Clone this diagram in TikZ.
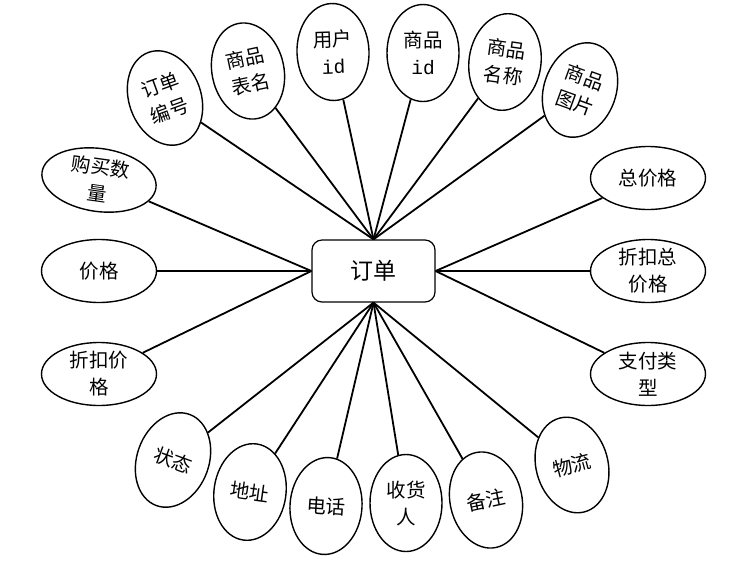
\documentclass[tikz,border=0pt]{standalone}
\usepackage{fontspec}
\setmainfont{Noto Sans CJK SC}
\newfontfamily\idfont{Liberation Mono}
\usetikzlibrary{shapes.geometric}
\begin{document}
\begin{tikzpicture}[x=1pt,y=-1pt,
  attr/.style={draw, ellipse, line width=1.4pt, inner sep=0pt, fill=white},
  vattr/.style={attr, minimum width=72pt, minimum height=97pt},
  hattr/.style={attr, minimum width=115pt, minimum height=63pt},
  lbl/.style={font=\fontsize{19.5}{27}\selectfont, align=center, inner sep=0pt},
  link/.style={line width=1.8pt}]
\useasboundingbox (0,0) rectangle (746,566);
\node[draw, rounded corners=10pt, minimum width=123pt, minimum height=62pt, line width=1.2pt,
      font=\fontsize{23}{28}\selectfont] (order) at (373.5,271) {订单};
% top
\node[vattr, rotate=20] (a1) at (165,98) {};
\node[lbl, rotate=20] (t1) at (a1) {订单\\编号};
\node[vattr, rotate=12] (a2) at (248,71) {};
\node[lbl, rotate=12] (t2) at (a2) {商品\\表名};
\node[vattr, rotate=2] (a3) at (333,52) {};
\node[lbl, rotate=2] (t3) at (a3) {用户\\{\idfont id}};
\node[vattr] (a4) at (423,53) {};
\node[lbl] (t4) at (a4) {商品\\{\idfont id}};
\node[vattr, rotate=-8] (a5) at (505,62) {};
\node[lbl, rotate=-8] (t5) at (a5) {商品\\名称};
\node[vattr, rotate=-20] (a6) at (580,90) {};
\node[lbl, rotate=-20] (t6) at (a6) {商品\\图片};
% left
\node[hattr, rotate=-8] (b1) at (99,180) {};
\node[lbl, rotate=-8] (u1) at (b1) {购买数\\量};
\node[hattr] (b2) at (99,271) {};
\node[lbl] (u2) at (b2) {价格};
\node[hattr] (b3) at (99,374) {};
\node[lbl] (u3) at (b3) {折扣价\\格};
% right
\node[hattr] (c1) at (648,178) {};
\node[lbl] (v1) at (c1) {总价格};
\node[hattr] (c2) at (648,271) {};
\node[lbl] (v2) at (c2) {折扣总\\价格};
\node[hattr] (c3) at (648,374) {};
\node[lbl] (v3) at (c3) {支付类\\型};
% bottom
\node[vattr, rotate=-20] (d1) at (173,460) {};
\node[lbl, rotate=-20] (w1) at (d1) {状态};
\node[vattr, rotate=-8] (d2) at (250,492) {};
\node[lbl, rotate=-8] (w2) at (d2) {地址};
\node[vattr, rotate=-4] (d3) at (326,506) {};
\node[lbl, rotate=-4] (w3) at (d3) {电话};
\node[vattr] (d4) at (406,503) {};
\node[lbl] (w4) at (d4) {收货\\人};
\node[vattr, rotate=12] (d5) at (486,500) {};
\node[lbl, rotate=12] (w5) at (d5) {备注};
\node[vattr, rotate=15] (d6) at (572,465) {};
\node[lbl, rotate=15] (w6) at (d6) {物流};
% links
\foreach \n in {a1,a2,a3,a4,a5,a6} \draw[link] (\n) -- (order.north);
\foreach \n in {b1,b2,b3} \draw[link] (\n) -- (order.west);
\foreach \n in {c1,c2,c3} \draw[link] (\n) -- (order.east);
\foreach \n in {d1,d2,d3,d4,d5,d6} \draw[link] (\n) -- (order.south);
\end{tikzpicture}
\end{document}
